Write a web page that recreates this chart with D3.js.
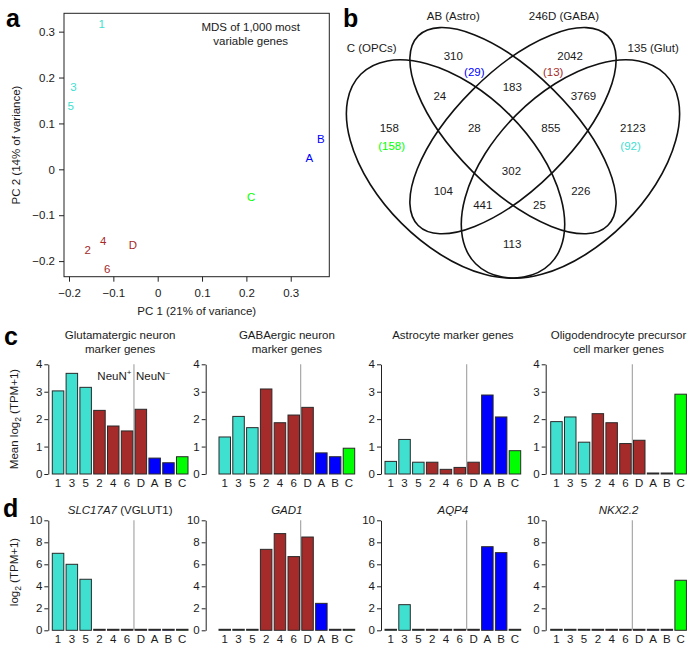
<!DOCTYPE html>
<html>
<head>
<meta charset="utf-8">
<script src="https://cdn.jsdelivr.net/npm/d3@7"></script>
<style>
  body { margin: 0; background: #fff; }
  svg text { font-family: "Liberation Sans", Arial, Helvetica, sans-serif; fill: #1a1a1a; font-size: 11.5px; }
</style>
</head>
<body>
<svg id="fig" width="694" height="652"></svg>
<script>
// ---- data ----
const samples = ["1", "3", "5", "2", "4", "6", "D", "A", "B", "C"];
const sampleGroup = ["Glut", "Glut", "Glut", "GABA", "GABA", "GABA", "GABA", "Astro", "Astro", "OPC"];

// panel a: MDS coordinates
const mdsPC1 = [-0.126, -0.190, -0.196, -0.158, -0.123, -0.114, -0.056, 0.342, 0.368, 0.211];
const mdsPC2 = [0.317, 0.179, 0.138, -0.176, -0.156, -0.218, -0.165, 0.025, 0.066, -0.061];
const mdsTicksX = [-0.2, -0.1, 0, 0.1, 0.2, 0.3];
const mdsTicksY = [-0.2, -0.1, 0, 0.1, 0.2, 0.3];

// panel b: venn counts
const vennSets = ["C (OPCs)", "AB (Astro)", "246D (GABA)", "135 (Glut)"];
const vennCounts = [158, 310, 2042, 2123, 24, 183, 3769, 28, 855, 302, 104, 226, 441, 25, 113];
const vennUnique = [158, 29, 13, 92];
const vennUniqueGroup = ["OPC", "Astro", "GABA", "Glut"];

// panel c: mean marker expression
const markerTitles = [
  ["Glutamatergic neuron", "marker genes"],
  ["GABAergic neuron", "marker genes"],
  ["Astrocyte marker genes"],
  ["Oligodendrocyte precursor", "cell marker genes"]
];
const glutMean = [3.03, 3.67, 3.16, 2.32, 1.75, 1.57, 2.36, 0.58, 0.41, 0.63];
const gabaMean = [1.35, 2.10, 1.69, 3.10, 1.87, 2.15, 2.43, 0.77, 0.63, 0.94];
const astroMean = [0.46, 1.26, 0.43, 0.43, 0.17, 0.24, 0.43, 2.88, 2.08, 0.85];
const opcMean = [1.91, 2.08, 1.16, 2.20, 1.87, 1.11, 1.23, 0.02, 0.02, 2.91];
const meanTicks = [0, 1, 2, 3, 4];

// panel d: single genes
const geneNames = ["SLC17A7", "GAD1", "AQP4", "NKX2.2"];
const geneAlias = [" (VGLUT1)", "", "", ""];
const slc17a7 = [7.00, 6.00, 4.64, 0, 0, 0, 0, 0, 0, 0];
const gad1 = [0, 0, 0, 7.36, 8.79, 6.70, 8.48, 2.45, 0, 0];
const aqp4 = [0, 2.33, 0, 0, 0, 0, 0, 7.60, 7.06, 0];
const nkx22 = [0, 0, 0, 0, 0, 0, 0, 0, 0, 4.55];
const geneTicks = [0, 2, 4, 6, 8, 10];

// ---- styles / layout ----
const groupColor = { Glut: "#40e0d0", GABA: "#a52a2a", Astro: "#0000ff", OPC: "#00ff00" };
const svg = d3.select("#fig");

function panelLetter(x, y, t) {
  svg.append("text").attr("x", x).attr("y", y).text(t)
    .style("font-size", "25px").style("font-weight", "bold").style("fill", "#000");
}

// ================= panel a =================
const ax = d3.scaleLinear().domain([-0.2113, 0.387]).range([64, 329.3]);
const ay = d3.scaleLinear().domain([-0.234, 0.340]).range([276.7, 13.3]);
const fmt = d => d === 0 ? "0" : d3.format(".1f")(d);

const ga = svg.append("g");
ga.append("rect")
  .attr("x", ax.range()[0]).attr("y", ay.range()[1])
  .attr("width", ax.range()[1] - ax.range()[0])
  .attr("height", ay.range()[0] - ay.range()[1])
  .attr("fill", "none").attr("stroke", "#222").attr("stroke-width", 1);

ga.append("g").attr("transform", `translate(0,${ay.range()[0]})`)
  .call(d3.axisBottom(ax).tickValues(mdsTicksX).tickFormat(fmt).tickSize(5).tickPadding(7.5).tickSizeOuter(0))
  .call(g => g.select(".domain").remove());
ga.append("g").attr("transform", `translate(${ax.range()[0]},0)`)
  .call(d3.axisLeft(ay).tickValues(mdsTicksY).tickFormat(fmt).tickSize(5).tickPadding(4).tickSizeOuter(0))
  .call(g => g.select(".domain").remove());
ga.selectAll(".tick line").attr("stroke", "#222");
ga.selectAll(".tick text").style("font-size", "11.5px").style("font-family", "'Liberation Sans', Arial, sans-serif").attr("fill", "#1a1a1a");

ga.selectAll(".pt")
  .data(samples)
  .enter()
  .append("text")
  .attr("class", "pt")
  .attr("x", (d, i) => ax(mdsPC1[i]))
  .attr("y", (d, i) => ay(mdsPC2[i]))
  .attr("dy", "0.35em")
  .attr("text-anchor", "middle")
  .style("fill", (d, i) => groupColor[sampleGroup[i]])
  .text(d => d);

ga.append("text").attr("x", 250.7).attr("y", 30.7).attr("text-anchor", "middle").text("MDS of 1,000 most");
ga.append("text").attr("x", 250.7).attr("y", 45).attr("text-anchor", "middle").text("variable genes");
ga.append("text").attr("x", 196.7).attr("y", 315).attr("text-anchor", "middle").text("PC 1 (21% of variance)");
ga.append("text").attr("transform", "translate(20,145) rotate(-90)").attr("text-anchor", "middle").text("PC 2 (14% of variance)");
panelLetter(6, 27, "a");

// ================= panel b (venn) =================
const vennEllipses = [
  { cx: 0.35, cy: 0.47, a: 0.35, b: 0.20, rot: 45 },
  { cx: 0.50, cy: 0.57, a: 0.35, b: 0.15, rot: 45 },
  { cx: 0.50, cy: 0.57, a: 0.35, b: 0.15, rot: -45 },
  { cx: 0.65, cy: 0.47, a: 0.35, b: 0.20, rot: -45 }
];
const vennCountPos = [
  [0.177, 0.576], [0.344, 0.765], [0.649, 0.765], [0.813, 0.576],
  [0.309, 0.661], [0.498, 0.685], [0.684, 0.661],
  [0.399, 0.576], [0.599, 0.576], [0.496, 0.466],
  [0.318, 0.413], [0.677, 0.413], [0.421, 0.376], [0.569, 0.376], [0.498, 0.274]
];
const vennUniquePos = [[0.183, 0.531], [0.399, 0.724], [0.605, 0.724], [0.807, 0.531]];
const vennSetPos = [[0.131, 0.785], [0.344, 0.869], [0.633, 0.869], [0.866, 0.785]];

const vx = d3.scaleLinear().domain([0, 1]).range([321.5, 704.5]);
const vy = d3.scaleLinear().domain([0, 1]).range([349, -34]);
const vr = d => vx(d) - vx(0);

const gb = svg.append("g");
gb.selectAll("ellipse")
  .data(vennEllipses)
  .enter()
  .append("ellipse")
  .attr("cx", 0).attr("cy", 0)
  .attr("rx", d => vr(d.a)).attr("ry", d => vr(d.b))
  .attr("transform", d => `translate(${vx(d.cx)},${vy(d.cy)}) rotate(${d.rot})`)
  .attr("fill", "none").attr("stroke", "#111").attr("stroke-width", 1.6);

gb.selectAll(".vc")
  .data(vennCounts)
  .enter()
  .append("text")
  .attr("class", "vc")
  .attr("x", (d, i) => vx(vennCountPos[i][0]))
  .attr("y", (d, i) => vy(vennCountPos[i][1]))
  .attr("dy", "0.35em").attr("text-anchor", "middle")
  .text(d => d);

gb.selectAll(".vu")
  .data(vennUnique)
  .enter()
  .append("text")
  .attr("class", "vu")
  .attr("x", (d, i) => vx(vennUniquePos[i][0]))
  .attr("y", (d, i) => vy(vennUniquePos[i][1]))
  .attr("dy", "0.35em").attr("text-anchor", "middle")
  .style("fill", (d, i) => groupColor[vennUniqueGroup[i]])
  .text(d => `(${d})`);

gb.selectAll(".vs")
  .data(vennSets)
  .enter()
  .append("text")
  .attr("class", "vs")
  .attr("x", (d, i) => vx(vennSetPos[i][0]))
  .attr("y", (d, i) => vy(vennSetPos[i][1]))
  .attr("dy", "0.35em").attr("text-anchor", "middle")
  .text(d => d);
panelLetter(343, 27, "b");

// ================= panels c & d (bars) =================
const barStart = [52.3, 219, 385, 550.7];
const axisX = [48.3, 205.7, 381, 545.7];
const barSpan = 135.7;

function barChart(i, values, y, ticks, labelY) {
  const g = svg.append("g");
  const x = d3.scaleBand().domain(samples).range([barStart[i], barStart[i] + barSpan])
    .paddingInner(0.167).paddingOuter(0);
  const bw = x.bandwidth();

  // NeuN+/NeuN- divider
  const divX = (x("6") + bw + x("D")) / 2;
  g.append("line")
    .attr("x1", divX).attr("x2", divX)
    .attr("y1", y(0)).attr("y2", y(ticks[ticks.length - 1]))
    .attr("stroke", "#a8a8a8").attr("stroke-width", 1.2);

  g.selectAll("rect")
    .data(values)
    .enter()
    .append("rect")
    .attr("x", (d, j) => x(samples[j]))
    .attr("width", bw)
    .attr("y", d => Math.min(y(d), y(0) - 1))
    .attr("height", d => Math.max(y(0) - y(d), 1))
    .attr("fill", (d, j) => groupColor[sampleGroup[j]])
    .attr("stroke", "#2a2a2a").attr("stroke-width", 1);

  const axis = g.append("g").attr("transform", `translate(${axisX[i]},0)`)
    .call(d3.axisLeft(y).tickValues(ticks).tickFormat(d3.format("d")).tickSize(4).tickPadding(2).tickSizeOuter(0));
  axis.select(".domain").attr("stroke", "#222");
  axis.selectAll(".tick line").attr("stroke", "#222");
  axis.selectAll(".tick text").style("font-size", "11.5px").style("font-family", "'Liberation Sans', Arial, sans-serif").attr("fill", "#1a1a1a");

  g.selectAll(".cat")
    .data(samples)
    .enter()
    .append("text")
    .attr("class", "cat")
    .attr("x", d => x(d) + bw / 2)
    .attr("y", labelY)
    .attr("text-anchor", "middle")
    .text(d => d);

  return { g, x, center: barStart[i] + barSpan / 2, divX };
}

// panel c
const yc = d3.scaleLinear().domain([0, 4]).range([474, 364.3]);
[glutMean, gabaMean, astroMean, opcMean].forEach((vals, i) => {
  const c = barChart(i, vals, yc, meanTicks, 486.8);
  markerTitles[i].forEach((line, k) => {
    c.g.append("text").attr("x", c.center).attr("y", 338.5 + k * 14)
      .attr("text-anchor", "middle").text(line);
  });
  if (i === 0) {
    const tPlus = c.g.append("text").attr("x", c.divX - 2.5).attr("y", 379.5).attr("text-anchor", "end");
    tPlus.append("tspan").text("NeuN");
    tPlus.append("tspan").attr("dy", -4.5).style("font-size", "8px").text("+");
    const tMinus = c.g.append("text").attr("x", c.divX + 2).attr("y", 379.5);
    tMinus.append("tspan").text("NeuN");
    tMinus.append("tspan").attr("dy", -4.5).style("font-size", "8px").text("\u2013");
  }
});
const ylabC = svg.append("text").attr("transform", "translate(18,419) rotate(-90)").attr("text-anchor", "middle");
ylabC.append("tspan").text("Mean log");
ylabC.append("tspan").attr("dy", 3).style("font-size", "8.5px").text("2");
ylabC.append("tspan").attr("dy", -3).text(" (TPM+1)");
panelLetter(4, 345, "c");

// panel d
const yd = d3.scaleLinear().domain([0, 10]).range([630.3, 520.3]);
[slc17a7, gad1, aqp4, nkx22].forEach((vals, i) => {
  const c = barChart(i, vals, yd, geneTicks, 643.3);
  const t = c.g.append("text").attr("x", c.center).attr("y", 514).attr("text-anchor", "middle");
  t.append("tspan").style("font-style", "italic").text(geneNames[i]);
  if (geneAlias[i]) t.append("tspan").text(geneAlias[i]);
});
const ylabD = svg.append("text").attr("transform", "translate(18,572) rotate(-90)").attr("text-anchor", "middle");
ylabD.append("tspan").text("log");
ylabD.append("tspan").attr("dy", 3).style("font-size", "8.5px").text("2");
ylabD.append("tspan").attr("dy", -3).text(" (TPM+1)");
panelLetter(3, 517, "d");
</script>
</body>
</html>
